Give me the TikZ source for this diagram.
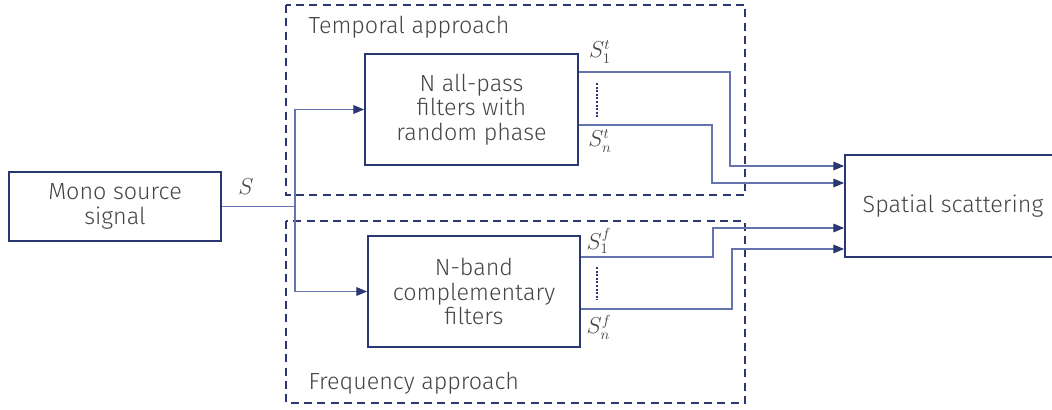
\documentclass[tikz,border=0pt]{standalone}
\usepackage{fontspec}
\setmainfont{Fira Sans Light}
\usetikzlibrary{arrows.meta}

\definecolor{navy}{HTML}{2B3770}
\definecolor{fio}{HTML}{6573AE}
\definecolor{texto}{HTML}{454545}

\tikzset{
  bloco/.style={draw=navy, line width=1.4pt, text=texto, align=center,
    inner sep=0pt, font=\fontsize{17.5}{18.5}\selectfont},
  sinal/.style={draw=fio, line width=0.8pt,
    -{Triangle[length=8pt,width=6.5pt,fill=navy,color=navy]}},
  fio/.style={draw=fio, line width=0.8pt},
  caixa/.style={draw=navy, line width=1.3pt, dash pattern=on 6pt off 4pt},
  rotulo/.style={text=texto, font=\fontsize{17.5}{18.5}\selectfont},
  indice/.style={text=texto, inner sep=1pt, font=\fontsize{16}{18}\selectfont},
  pontos/.style={draw=navy, line width=1.6pt, dash pattern=on 1.5pt off 1.2pt}
}

\begin{document}
\begin{tikzpicture}[x=0.75pt, y=-0.75pt]

\useasboundingbox (0,0) rectangle (1052,410);
\clip (0,0) rectangle (1052,410);

% Abordagens (caixas tracejadas)
\draw[caixa] (286,5) rectangle (745,195);
\draw[caixa] (286,221) rectangle (745,403);
\node[rotulo, anchor=west] (temporal) at (304,27) {Temporal approach};
\node[rotulo, anchor=west] (frequencia) at (304,383) {Frequency approach};

% Blocos
\node[bloco, minimum width=212pt*0.75, minimum height=69pt*0.75] (mono) at (115,206.5) {Mono source\\signal};
\node[bloco, minimum width=213pt*0.75, minimum height=111pt*0.75] (allpass) at (471.5,109.5) {N all-pass\\filters with\\random phase};
\node[bloco, minimum width=212pt*0.75, minimum height=111pt*0.75] (nband) at (474,291.5) {N-band\\complementary\\filters};
\node[bloco, minimum width=216pt*0.75, minimum height=102pt*0.75] (spatial) at (953,206) {Spatial scattering};

% Sinal de entrada
\coordinate (divisor) at (295,206.5);
\draw[fio] (mono.east) -- (divisor);
\node[indice] (s) at (246,187) {$S$};
\draw[sinal] (divisor) |- (allpass.west);
\draw[sinal] (divisor) |- (nband.west);

% Saídas temporais
\coordinate (t1) at (allpass.east |- 0,72);
\coordinate (tn) at (allpass.east |- 0,125);
\draw[sinal] (t1) -| (730,166) -- (spatial.west |- 0,166);
\draw[sinal] (tn) -| (712,183) -- (spatial.west |- 0,183);
\draw[pontos] (597,83) -- (597,117);
\node[indice] (st1) at (600,52) {$S_1^t$};
\node[indice] (stn) at (600,141) {$S_n^t$};

% Saídas em frequência
\coordinate (f1) at (nband.east |- 0,257);
\coordinate (fn) at (nband.east |- 0,309);
\draw[sinal] (f1) -| (713,228) -- (spatial.west |- 0,228);
\draw[sinal] (fn) -| (732,249) -- (spatial.west |- 0,249);
\draw[pontos] (597,267) -- (597,300);
\node[indice] (sf1) at (599,241) {$S_1^f$};
\node[indice] (sfn) at (599,327) {$S_n^f$};

\end{tikzpicture}
\end{document}
